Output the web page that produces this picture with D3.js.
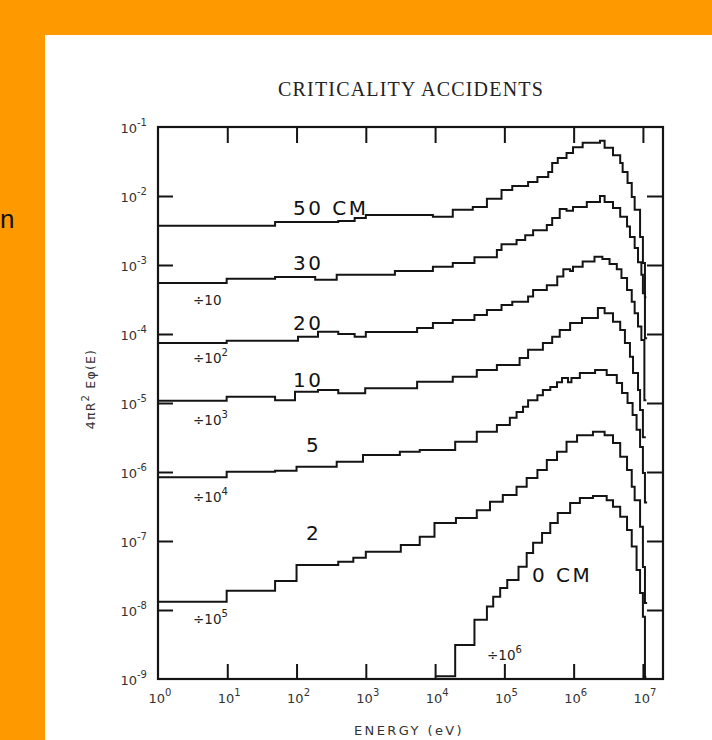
<!DOCTYPE html>
<html>
<head>
<meta charset="utf-8">
<script src="https://cdn.jsdelivr.net/npm/d3@7"></script>
<style>
html,body{margin:0;padding:0;background:#ff9900;}
svg{display:block;}
</style>
</head>
<body>
<svg id="chart" width="712" height="740"></svg>
<script>
// ---------------- DATA (energy bin edges in eV, plotted flux per bin) ----------------
const edges50 = [1, 49, 400, 690, 1000, 9300, 1.8e4, 3.5e4, 5.6e4, 9.1e4, 1.3e5, 2.2e5, 3.0e5, 4.3e5, 4.9e5, 5.9e5, 7.9e5, 9.8e5, 1.35e6, 2.4e6, 2.8e6, 3.7e6, 4.7e6, 5.1e6, 6.0e6, 6.9e6, 7.6e6, 9.1e6, 1.0e7, 1.07e7, 1.12e7];
const flux50 = [3.7e-3, 4.2e-3, 4.35e-3, 4.8e-3, 5.3e-3, 5.0e-3, 6.3e-3, 6.9e-3, 9.1e-3, 1.22e-2, 1.4e-2, 1.6e-2, 1.89e-2, 2.23e-2, 3.0e-2, 3.55e-2, 4.2e-2, 5.1e-2, 5.9e-2, 6.3e-2, 5.0e-2, 3.9e-2, 3.0e-2, 2.23e-2, 1.54e-2, 9.7e-3, 6.3e-3, 2.55e-3, 1.07e-3, 3.4e-4];

const edges30 = [1, 9.8, 49, 186, 380, 2630, 9300, 1.8e4, 3.7e4, 7.8e4, 9.1e4, 1.5e5, 2.0e5, 2.6e5, 4.1e5, 4.9e5, 6.3e5, 7.9e5, 9.8e5, 1.55e6, 2.4e6, 2.8e6, 3.7e6, 4.7e6, 5.9e6, 6.5e6, 7.6e6, 8.5e6, 9.5e6, 1.0e7, 1.07e7, 1.15e7];
const flux30 = [5.5e-4, 6.3e-4, 6.7e-4, 6.1e-4, 7.2e-4, 8.2e-4, 9.4e-4, 1.07e-3, 1.3e-3, 1.65e-3, 2.0e-3, 2.3e-3, 2.7e-3, 3.2e-3, 3.8e-3, 4.8e-3, 6.5e-3, 6.1e-3, 6.9e-3, 8.2e-3, 1.0e-2, 8.2e-3, 6.7e-3, 5.0e-3, 3.6e-3, 2.55e-3, 1.76e-3, 1.1e-3, 7.2e-4, 3.9e-4, 8.7e-5];

const edges20 = [1, 9.8, 105, 204, 400, 690, 1000, 5500, 9300, 1.8e4, 3.7e4, 5.6e4, 9.1e4, 1.3e5, 2.2e5, 2.6e5, 4.1e5, 5.8e5, 7.1e5, 8.9e5, 9.8e5, 1.35e6, 2.0e6, 2.6e6, 3.3e6, 4.2e6, 4.9e6, 5.9e6, 6.9e6, 7.6e6, 8.5e6, 9.5e6, 1.05e7, 1.12e7];
const flux20 = [7.4e-5, 8.0e-5, 9.1e-5, 1.08e-4, 1.0e-4, 9.1e-5, 1.07e-4, 1.22e-4, 1.44e-4, 1.6e-4, 1.88e-4, 2.23e-4, 2.63e-4, 2.94e-4, 3.5e-4, 4.35e-4, 5.1e-4, 6.8e-4, 8.7e-4, 8.2e-4, 9.4e-4, 1.12e-3, 1.32e-3, 1.22e-3, 1.03e-3, 8.7e-4, 6.5e-4, 4.35e-4, 2.94e-4, 2.0e-4, 1.28e-4, 8.2e-5, 1.1e-5];

const edges10 = [1, 9.8, 49, 95, 204, 400, 980, 5500, 1.8e4, 4.0e4, 7.8e4, 1.66e5, 2.2e5, 3.6e5, 4.9e5, 6.3e5, 8.9e5, 1.32e6, 2.24e6, 2.8e6, 3.7e6, 4.7e6, 5.5e6, 6.5e6, 7.2e6, 8.5e6, 9.1e6, 1.0e7, 1.1e7];
const flux10 = [1.08e-5, 1.23e-5, 1.1e-5, 1.46e-5, 1.54e-5, 1.38e-5, 1.63e-5, 2.04e-5, 2.4e-5, 3.0e-5, 3.55e-5, 4.5e-5, 5.9e-5, 7.4e-5, 9.1e-5, 1.14e-4, 1.44e-4, 1.7e-4, 2.38e-4, 2.0e-4, 1.51e-4, 1.14e-4, 7.4e-5, 4.7e-5, 2.72e-5, 1.54e-5, 7.9e-6, 3.2e-6];

const edges5 = [1, 9.8, 49, 100, 380, 910, 3100, 6000, 1.95e4, 4.0e4, 7.8e4, 1.2e5, 1.5e5, 1.86e5, 2.2e5, 3.0e5, 3.6e5, 4.6e5, 5.75e5, 6.8e5, 8.3e5, 9.3e5, 1.23e6, 2.04e6, 3.0e6, 4.2e6, 5.0e6, 6.0e6, 7.1e6, 8.1e6, 9.1e6, 1.0e7, 1.07e7, 1.15e7];
const flux5 = [8.4e-7, 1.01e-6, 1.04e-6, 1.19e-6, 1.41e-6, 1.76e-6, 1.97e-6, 2.08e-6, 2.75e-6, 3.84e-6, 4.8e-6, 6.1e-6, 7.4e-6, 8.8e-6, 1.1e-5, 1.3e-5, 1.54e-5, 1.7e-5, 2.0e-5, 2.3e-5, 2.0e-5, 2.3e-5, 2.72e-5, 3.0e-5, 2.55e-5, 1.95e-5, 1.4e-5, 1.0e-5, 6.7e-6, 4.1e-6, 2.3e-6, 9.7e-7, 3.6e-7];

const edges2 = [1, 9.8, 49, 100, 400, 660, 1000, 3200, 6000, 9800, 2.0e4, 4.0e4, 6.2e4, 9.5e4, 1.5e5, 2.1e5, 3.0e5, 4.1e5, 5.75e5, 7.9e5, 1.12e6, 1.9e6, 2.8e6, 3.7e6, 4.7e6, 5.9e6, 6.9e6, 7.6e6, 9.1e6, 1.0e7, 1.07e7, 1.15e7];
const flux2 = [1.32e-8, 1.9e-8, 2.63e-8, 4.5e-8, 5.0e-8, 5.7e-8, 7.0e-8, 8.75e-8, 1.15e-7, 1.82e-7, 2.15e-7, 2.8e-7, 3.7e-7, 4.65e-7, 6.1e-7, 8.2e-7, 1.07e-6, 1.49e-6, 1.97e-6, 2.75e-6, 3.4e-6, 3.84e-6, 3.4e-6, 2.63e-6, 1.67e-6, 1.07e-6, 6.1e-7, 3.9e-7, 1.61e-7, 4.2e-8, 1.26e-8];

const edges0 = [1.0e4, 1.95e4, 3.7e4, 5.6e4, 6.9e4, 8.7e4, 1.1e5, 1.6e5, 2.1e5, 2.6e5, 3.5e5, 4.6e5, 5.9e5, 8.9e5, 1.23e6, 1.9e6, 3.0e6, 3.7e6, 4.7e6, 5.9e6, 6.9e6, 8.1e6, 9.1e6, 1.0e7, 1.07e7, 1.12e7];
const flux0 = [1.1e-9, 3.1e-9, 7.2e-9, 1.12e-8, 1.56e-8, 2.08e-8, 2.72e-8, 4.25e-8, 6.7e-8, 9.4e-8, 1.31e-7, 1.82e-7, 2.55e-7, 3.56e-7, 4.2e-7, 4.5e-7, 3.9e-7, 3.14e-7, 2.25e-7, 1.44e-7, 8.3e-8, 3.8e-8, 1.76e-8, 8.0e-9, 1.07e-9];

const curveLabels = ["50 CM", "30", "20", "10", "5", "2", "0 CM"];
const divisorExponents = [1, 2, 3, 4, 5, 6];
const xTickValues = [1, 10, 100, 1e3, 1e4, 1e5, 1e6, 1e7];
const yTickValues = [1e-9, 1e-8, 1e-7, 1e-6, 1e-5, 1e-4, 1e-3, 1e-2, 1e-1];

// ---------------- DRAWING ----------------
const svg = d3.select("#chart");
const W = 712, H = 740;
const L = 158, R = 663, T = 127, B = 679;

svg.append("rect").attr("width", W).attr("height", H).attr("fill", "#ff9900");
svg.append("rect").attr("x", 45).attr("y", 35).attr("width", W - 45).attr("height", H - 35).attr("fill", "#ffffff");

// slide text visible at the left edge
svg.append("text").attr("x", 0).attr("y", 228).attr("text-anchor", "start")
  .attr("font-family", "Liberation Sans Narrow, Liberation Sans, Arial, sans-serif").attr("font-size", 26).attr("fill", "#111").text("n");

const x = d3.scaleLog().domain([1, Math.pow(10, 7.29)]).range([L, R]);
const y = d3.scaleLog().domain([1e-9, 1e-1]).range([B, T]);

const ink = "#141414";

// title
svg.append("text").attr("x", 411).attr("y", 96).attr("text-anchor", "middle")
  .attr("font-family", "Liberation Serif, Times New Roman, serif").attr("font-size", 20)
  .attr("letter-spacing", 1.2).attr("fill", "#222").text("CRITICALITY ACCIDENTS");

// frame
svg.append("rect").attr("x", L).attr("y", T).attr("width", R - L).attr("height", B - T)
  .attr("fill", "none").attr("stroke", ink).attr("stroke-width", 2.2);

const inner = xTickValues.slice(1);
const innerY = yTickValues.slice(1, -1);
const styleAxis = g => { g.select(".domain").remove(); g.selectAll(".tick line").attr("stroke", ink).attr("stroke-width", 2); };

svg.append("g").attr("transform", `translate(0,${T})`)
  .call(d3.axisTop(x).tickValues(inner).tickSize(-16).tickFormat(() => "")).call(styleAxis);
svg.append("g").attr("transform", `translate(0,${B})`)
  .call(d3.axisBottom(x).tickValues(inner).tickSize(-15).tickFormat(() => "")).call(styleAxis);
svg.append("g").attr("transform", `translate(${L},0)`)
  .call(d3.axisLeft(y).tickValues(innerY).tickSize(-15).tickFormat(() => "")).call(styleAxis);
svg.append("g").attr("transform", `translate(${R},0)`)
  .call(d3.axisRight(y).tickValues(innerY).tickSize(-16).tickFormat(() => "")).call(styleAxis);

const tickFont = "DejaVu Sans, Verdana, sans-serif";
// x tick labels
const xl = svg.append("g").selectAll("text").data(xTickValues).join("text")
  .attr("x", d => x(d) + 2).attr("y", 703).attr("text-anchor", "middle")
  .attr("font-family", tickFont).attr("font-size", 13).attr("fill", "#333");
xl.append("tspan").text("10");
xl.append("tspan").attr("dy", -7).attr("font-size", 10).text(d => Math.round(Math.log10(d)));

// y tick labels
const yl = svg.append("g").selectAll("text").data(yTickValues).join("text")
  .attr("x", 147).attr("y", d => y(d) + 6).attr("text-anchor", "end")
  .attr("font-family", tickFont).attr("font-size", 13).attr("fill", "#333");
yl.append("tspan").text("10");
yl.append("tspan").attr("dy", -7).attr("font-size", 10).text(d => "-" + Math.abs(Math.round(Math.log10(d))));

// axis titles
svg.append("text").attr("x", 409).attr("y", 735).attr("text-anchor", "middle")
  .attr("font-family", tickFont).attr("font-size", 13).attr("letter-spacing", 2.4)
  .attr("fill", "#333").text("ENERGY (eV)");
const yt = svg.append("text").attr("transform", "translate(95,389) rotate(-90)").attr("text-anchor", "middle")
  .attr("font-family", tickFont).attr("font-size", 12.5).attr("letter-spacing", 1.2).attr("fill", "#333");
yt.append("tspan").text("4\u03c0R");
yt.append("tspan").attr("dy", -6).attr("font-size", 10).text("2");
yt.append("tspan").attr("dy", 6).text(" E\u03c6(E)");

// curves
const seriesList = [
  [edges50, flux50], [edges30, flux30], [edges20, flux20], [edges10, flux10],
  [edges5, flux5], [edges2, flux2], [edges0, flux0]
];
const line = d3.line().x(d => x(d[0])).y(d => y(d[1])).curve(d3.curveStepAfter);
seriesList.forEach(([e, f]) => {
  const pts = f.map((v, i) => [e[i], v]);
  pts.push([e[e.length - 1], f[f.length - 1]]);
  svg.append("path").datum(pts).attr("d", line)
    .attr("fill", "none").attr("stroke", ink).attr("stroke-width", 2).attr("stroke-linejoin", "miter");
});

// curve labels
const labelPos = [[293, 215], [293, 270], [293, 330], [293, 387], [306, 452], [306, 540], [532, 582]];
svg.append("g").selectAll("text").data(curveLabels).join("text")
  .attr("x", (d, i) => labelPos[i][0]).attr("y", (d, i) => labelPos[i][1])
  .attr("font-family", tickFont).attr("font-size", 20).attr("letter-spacing", 2.5)
  .attr("fill", "#111").text(d => d);

// divisor labels
const divPos = [[193, 305], [193, 363], [193, 425], [193, 502], [193, 624], [487, 660]];
const dl = svg.append("g").selectAll("text").data(divisorExponents).join("text")
  .attr("x", (d, i) => divPos[i][0]).attr("y", (d, i) => divPos[i][1])
  .attr("font-family", tickFont).attr("font-size", 13.5).attr("fill", "#222");
dl.append("tspan").text("\u00f710");
dl.filter(d => d > 1).append("tspan").attr("dy", -7).attr("font-size", 10).text(d => d);
</script>
</body>
</html>
